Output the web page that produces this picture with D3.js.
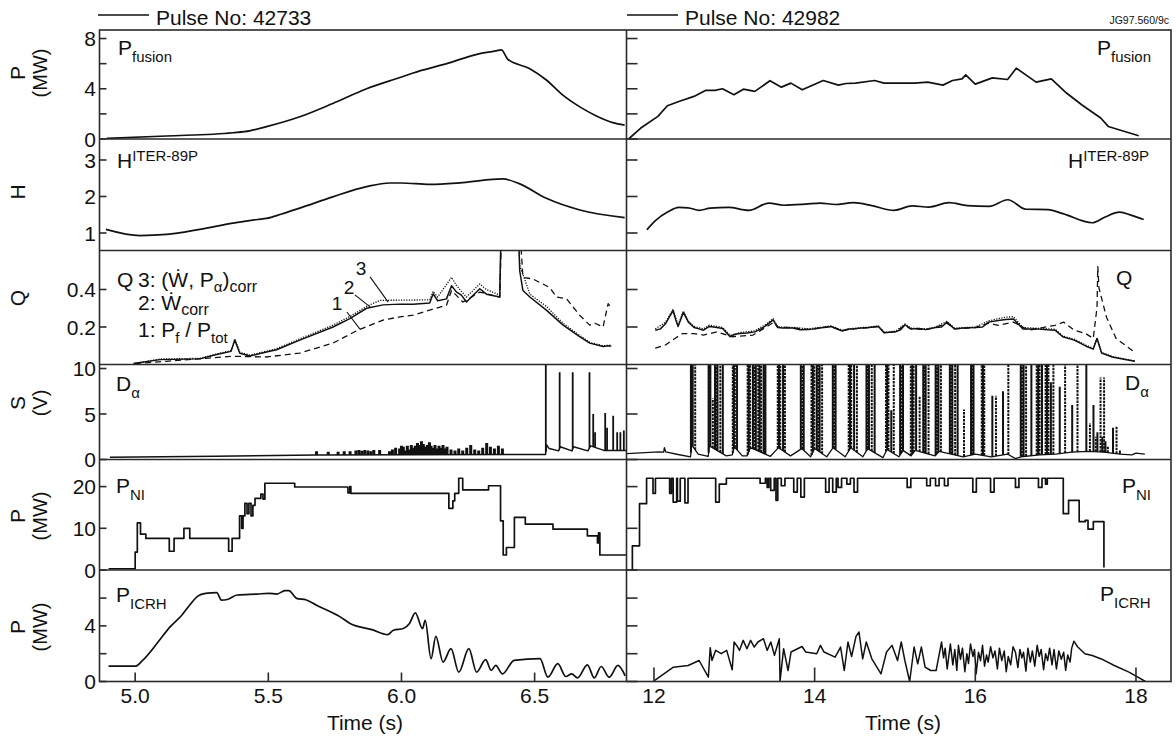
<!DOCTYPE html>
<html><head><meta charset="utf-8">
<script src="https://cdn.jsdelivr.net/npm/d3@7"></script>
<style>
body{margin:0;background:#fff}
text{font-family:"Liberation Sans",Arial,Helvetica,sans-serif;fill:#111}
</style>
</head><body>
<svg id="c" width="1176" height="738"></svg>
<script>
// ---------------- DATA ----------------
const pulseLabels = ["Pulse No: 42733", "Pulse No: 42982"];
const figureCode = "JG97.560/9c";
const timeDomainLeft = [4.866, 6.845];
const timeDomainRight = [11.658, 18.436];
const xTicksLeft = [5.0, 5.5, 6.0, 6.5];
const xTickLabelsLeft = ["5.0", "5.5", "6.0", "6.5"];
const xTicksRight = [12, 14, 16, 18];
const xTickLabelsRight = ["12", "14", "16", "18"];
const xAxisTitle = "Time (s)";

const rowNames = ["P", "H", "Q", "S", "P", "P"];
const rowUnits = ["(MW)", "", "", "(V)", "(MW)", "(MW)"];
const rowDomains = [[0, 8.68], [0.52, 3.575], [0, 0.608], [0, 10.44], [0, 26.5], [0, 8.02]];
const rowTicks = [[0, 2, 4, 6, 8], [1, 2, 3], [0.2, 0.4], [0, 5, 10], [0, 10, 20], [0, 2, 4, 6]];
const rowTickLabels = [["0", "", "4", "", "8"], ["1", "2", "3"], ["0.2", "0.4"], ["0", "5", "10"], ["0", "10", "20"], ["0", "", "4", ""]];

// Row 1: fusion power (MW)
const pFusionL = [[4.893,0.05],[5.118,0.24],[5.367,0.5],[5.43,0.65],[5.493,0.98],[5.618,1.77],[5.742,2.83],[5.869,4.0],[5.994,4.9],[6.044,5.26],[6.17,6.0],[6.294,6.8],[6.35,7.0],[6.375,7.1],[6.399,6.35],[6.482,5.6],[6.544,4.7],[6.606,3.5],[6.67,2.56],[6.732,1.83],[6.793,1.3],[6.838,1.1]];
const pFusionR = [[11.684,0],[11.836,0.87],[12.049,1.8],[12.167,2.65],[12.309,2.99],[12.498,3.39],[12.64,3.87],[12.759,3.87],[12.853,4.0],[12.995,3.52],[13.113,3.97],[13.255,3.79],[13.444,4.64],[13.586,4.13],[13.704,4.45],[13.846,3.92],[14.107,4.66],[14.296,4.29],[14.39,4.42],[14.509,4.45],[14.746,4.66],[14.864,4.45],[15.243,4.45],[15.408,4.53],[15.597,4.29],[15.716,4.66],[15.834,4.79],[15.881,5.11],[15.999,4.37],[16.212,4.87],[16.402,4.74],[16.51,5.64],[16.757,4.53],[16.946,4.79],[17.135,3.66],[17.324,2.73],[17.561,1.67],[17.655,1.0],[18.034,0.26]];

// Row 2: H ITER-89P
const hL = [[4.89,1.1],[5.018,0.93],[5.118,0.96],[5.243,1.1],[5.367,1.27],[5.46,1.37],[5.493,1.4],[5.55,1.52],[5.618,1.68],[5.742,1.99],[5.869,2.27],[5.956,2.37],[6.0,2.37],[6.106,2.33],[6.23,2.38],[6.38,2.48],[6.44,2.36],[6.544,1.95],[6.67,1.63],[6.838,1.42]];
const hR = [[11.913,1.09],[12.014,1.33],[12.174,1.58],[12.311,1.70],[12.425,1.69],[12.562,1.62],[12.7,1.68],[12.928,1.70],[13.18,1.62],[13.431,1.82],[13.614,1.76],[13.889,1.79],[14.072,1.82],[14.255,1.78],[14.483,1.83],[14.712,1.75],[14.986,1.62],[15.215,1.74],[15.421,1.71],[15.672,1.83],[15.901,1.75],[16.175,1.73],[16.404,1.91],[16.632,1.65],[16.907,1.64],[17.09,1.53],[17.456,1.28],[17.616,1.44],[17.799,1.57],[17.936,1.49],[18.096,1.37]];

// Row 3: Q  (1: Pf/Ptot dashed, 2: Wcorr solid, 3: (W,Pa)corr dotted)
const qSolidL = [[4.993,0.005],[5.093,0.026],[5.243,0.03],[5.306,0.053],[5.36,0.07],[5.374,0.13],[5.393,0.06],[5.431,0.045],[5.493,0.067],[5.531,0.079],[5.618,0.13],[5.743,0.2],[5.806,0.245],[5.869,0.30],[5.931,0.318],[5.994,0.322],[6.044,0.321],[6.106,0.328],[6.119,0.377],[6.136,0.34],[6.169,0.35],[6.188,0.42],[6.207,0.386],[6.225,0.37],[6.244,0.333],[6.294,0.404],[6.319,0.375],[6.369,0.36],[6.377,0.95],[6.434,0.95],[6.444,0.5],[6.456,0.395],[6.482,0.36],[6.544,0.29],[6.607,0.21],[6.669,0.149],[6.707,0.114],[6.757,0.096],[6.776,0.1],[6.788,0.098]];
const qDotL = [[5.0,0.006],[5.093,0.029],[5.243,0.033],[5.306,0.056],[5.36,0.075],[5.374,0.135],[5.393,0.065],[5.431,0.05],[5.493,0.071],[5.531,0.084],[5.618,0.137],[5.743,0.21],[5.806,0.256],[5.869,0.31],[5.919,0.342],[5.994,0.343],[6.106,0.345],[6.119,0.39],[6.136,0.36],[6.188,0.465],[6.207,0.42],[6.225,0.39],[6.244,0.36],[6.294,0.43],[6.319,0.4],[6.369,0.37],[6.378,0.95],[6.432,0.95],[6.444,0.53],[6.482,0.375],[6.544,0.31],[6.607,0.22],[6.669,0.155],[6.707,0.118],[6.757,0.1],[6.788,0.103]];
const qDashL = [[5.0,0.005],[5.118,0.017],[5.368,0.044],[5.493,0.04],[5.618,0.061],[5.743,0.114],[5.837,0.184],[5.931,0.237],[5.994,0.254],[6.044,0.263],[6.106,0.29],[6.169,0.316],[6.188,0.395],[6.231,0.333],[6.294,0.386],[6.369,0.36],[6.38,0.95],[6.435,0.95],[6.456,0.465],[6.494,0.456],[6.557,0.41],[6.582,0.36],[6.62,0.35],[6.669,0.263],[6.707,0.21],[6.726,0.22],[6.757,0.2],[6.776,0.325],[6.788,0.3]];
const qSolidR = [[12.016,0.183],[12.08,0.19],[12.143,0.217],[12.2,0.26],[12.238,0.287],[12.27,0.24],[12.3,0.203],[12.366,0.278],[12.428,0.226],[12.499,0.197],[12.56,0.19],[12.617,0.183],[12.688,0.203],[12.74,0.2],[12.783,0.197],[12.854,0.192],[12.948,0.148],[13.0,0.16],[13.066,0.165],[13.16,0.168],[13.256,0.174],[13.33,0.19],[13.398,0.209],[13.483,0.238],[13.54,0.197],[13.6,0.195],[13.729,0.195],[13.82,0.185],[13.918,0.186],[14.0,0.19],[14.108,0.197],[14.202,0.203],[14.344,0.179],[14.42,0.19],[14.486,0.19],[14.58,0.195],[14.676,0.197],[14.794,0.203],[14.865,0.169],[15.007,0.174],[15.07,0.185],[15.125,0.212],[15.196,0.19],[15.3,0.192],[15.386,0.186],[15.504,0.197],[15.58,0.2],[15.646,0.226],[15.741,0.19],[15.85,0.195],[16.001,0.197],[16.09,0.2],[16.167,0.226],[16.285,0.235],[16.38,0.24],[16.474,0.243],[16.593,0.19],[16.757,0.19],[16.9,0.185],[16.994,0.183],[17.088,0.148],[17.231,0.13],[17.373,0.099],[17.468,0.082],[17.515,0.139],[17.572,0.061],[17.704,0.04],[17.85,0.028],[17.988,0.017]];
const qDotR = [[12.016,0.19],[12.143,0.225],[12.238,0.295],[12.3,0.21],[12.366,0.285],[12.428,0.232],[12.499,0.203],[12.617,0.19],[12.688,0.21],[12.783,0.203],[12.854,0.198],[12.948,0.155],[13.066,0.17],[13.256,0.18],[13.398,0.215],[13.483,0.245],[13.54,0.2],[13.729,0.198],[13.918,0.19],[14.108,0.2],[14.202,0.206],[14.344,0.183],[14.486,0.193],[14.676,0.2],[14.794,0.206],[14.865,0.172],[15.007,0.178],[15.125,0.216],[15.196,0.194],[15.386,0.19],[15.504,0.2],[15.646,0.23],[15.741,0.194],[16.001,0.2],[16.167,0.232],[16.285,0.245],[16.38,0.252],[16.474,0.255],[16.593,0.197],[16.757,0.194],[16.994,0.188],[17.088,0.152],[17.231,0.135],[17.373,0.104],[17.468,0.086],[17.515,0.142],[17.572,0.064],[17.704,0.043],[17.988,0.019]];
const qDashR = [[12.016,0.087],[12.143,0.104],[12.261,0.139],[12.356,0.165],[12.499,0.165],[12.617,0.157],[12.783,0.174],[12.972,0.148],[13.232,0.157],[13.398,0.2],[13.493,0.226],[13.54,0.2],[13.729,0.196],[13.918,0.187],[14.108,0.197],[14.202,0.203],[14.344,0.18],[14.486,0.19],[14.676,0.197],[14.794,0.203],[14.865,0.17],[15.007,0.175],[15.125,0.21],[15.196,0.19],[15.386,0.187],[15.504,0.197],[15.646,0.22],[15.741,0.19],[16.001,0.197],[16.167,0.22],[16.285,0.209],[16.474,0.226],[16.663,0.183],[16.994,0.209],[17.1,0.226],[17.231,0.183],[17.373,0.165],[17.468,0.139],[17.515,0.304],[17.525,0.522],[17.539,0.409],[17.633,0.252],[17.752,0.139],[17.988,0.064]];
const qLegend = ["3: (Ẇ, P", "α", ")", "corr", "2: Ẇ", "corr", "1: P", "f", " / P", "tot"];
const qCurveIds = ["1", "2", "3"];
const qCurveLabelPos = [[5.758, 0.29], [5.803, 0.376], [5.848, 0.477]];
const qLeaderFrom = [[5.795, 0.28], [5.825, 0.371], [5.882, 0.467]];
const qLeaderTo = [[5.844, 0.189], [5.882, 0.307], [5.95, 0.333]];

// Row 4: D-alpha signal (V): baseline + ELM spikes
const sBaseL = [[4.905,0.26],[5.3,0.35],[5.68,0.5],[6.386,0.55],[6.541,0.55],[6.545,1.6],[6.555,1.2],[6.59,0.95],[6.596,1.4],[6.64,0.95],[6.646,1.4],[6.70,0.95],[6.71,1.5],[6.76,1.0],[6.845,1.0]];
const elmTimesL = [5.681,5.725,5.762,5.785,5.807,5.829,5.84,5.851,5.862,5.874,5.885,5.896,5.918,5.955,5.966,5.978,5.993,6.0,6.007,6.015,6.022,6.03,6.037,6.045,6.052,6.06,6.067,6.075,6.082,6.09,6.097,6.105,6.111,6.12,6.126,6.135,6.141,6.15,6.156,6.165,6.171,6.186,6.201,6.215,6.23,6.245,6.26,6.275,6.29,6.305,6.32,6.334,6.349,6.364,6.379,6.542,6.594,6.643,6.706,6.72,6.727,6.765,6.772,6.795,6.81,6.822,6.835];
const elmPeaksL = [0.9,0.85,0.85,0.9,0.9,1.0,1.05,0.95,1.05,1.0,0.9,1.05,1.05,0.9,1.1,1.3,1.2,1.5,1.4,1.0,1.5,1.1,1.6,1.3,1.5,1.8,1.6,2.0,1.7,1.4,1.6,1.9,1.5,1.3,1.6,1.2,1.5,1.3,1.6,1.2,1.4,1.1,1.0,1.2,1.0,1.3,1.6,1.1,1.0,1.3,1.8,1.4,1.2,1.5,1.2,11,9.6,9.6,9.6,5.0,3.0,5.1,3.5,4.8,3.0,3.0,3.2];
const sBaseR = [[11.665,0.64],[12.06,0.83],[12.12,0.8],[12.13,1.3],[12.145,0.85],[12.3,0.55],[12.455,0.3],[12.47,1.6],[12.55,0.6],[12.675,0.35],[12.69,1.5],[12.9,0.4],[12.975,0.5],[13.0,1.4],[13.1,0.4],[13.16,0.4],[13.2,1.3],[13.45,0.35],[13.55,1.3],[13.7,0.4],[13.84,1.2],[13.95,0.3],[14.0,1.2],[14.15,0.3],[14.23,1.3],[14.38,0.3],[14.45,1.3],[14.6,0.3],[14.66,1.2],[14.85,0.2],[14.9,1.1],[15.05,0.3],[15.1,1.0],[15.2,0.4],[15.25,1.0],[15.5,0.4],[15.55,0.9],[15.7,0.6],[15.85,0.3],[16.0,0.6],[16.2,0.3],[16.4,0.6],[16.5,0.1],[16.57,0.3],[16.8,0.5],[17.0,0.6],[17.2,0.8],[17.4,0.9],[17.6,0.8],[17.8,0.6],[17.95,0.5],[18.0,0.7],[18.11,0.6]];
const elmTimesR = [12.46,12.47,12.482,12.513,12.68,12.69,12.702,12.733,12.76,12.775,12.791,12.826,12.857,12.981,12.994,13.007,13.034,13.166,13.18,13.197,13.232,13.25,13.268,13.298,13.315,13.334,13.365,13.376,13.387,13.541,13.556,13.572,13.607,13.63,13.828,13.846,13.864,13.961,13.978,13.996,14.027,14.045,14.062,14.093,14.226,14.243,14.261,14.424,14.44,14.455,14.491,14.526,14.645,14.66,14.676,14.711,14.747,14.888,14.903,14.919,14.954,14.985,15.064,15.082,15.1,15.197,15.215,15.232,15.263,15.307,15.352,15.367,15.382,15.418,15.506,15.523,15.541,15.572,15.683,15.7,15.714,15.749,15.78,15.859,15.947,15.962,15.978,16.08,16.095,16.111,16.212,16.257,16.345,16.411,16.566,16.583,16.601,16.632,16.698,16.764,16.782,16.8,16.83,16.875,16.892,16.91,16.941,16.972,17.051,17.118,17.206,17.272,17.382,17.427,17.471,17.5,17.52,17.559,17.58,17.603,17.62,17.65,17.714,17.758,17.8];
const elmPeaksR = [11,11,11,11,11,11,11,6.7,11,11,11,11,11,11,11,11,11,11,11,11,11,11,11,11,11,11,11,11,11,11,11,11,11,11,11,11,11,11,11,11,11,11,11,11,11,11,11,11,11,11,11,11,11,11,11,11,11,11,11,11,5.4,11,11,11,11,11,11,11,11,7,11,11,11,11,11,11,11,11,11,11,11,11,11,5.5,11,11,11,11,11,11,7,7,7.5,11,11,11,11,11,11,11,11,11,11,11,11,11,8.5,11,8,11,6,11,11,4,6,2.5,3,9,2.5,9,2,1.5,3.5,3.7,1.0];

// Row 5: neutral beam power P_NI (MW), stepwise
const pNiL = [[4.90,0.3],[5.0,4.3],[5.008,11.3],[5.02,8.6],[5.04,7.6],[5.128,4.5],[5.146,7.6],[5.183,10.0],[5.205,7.6],[5.351,4.5],[5.364,7.6],[5.392,13],[5.40,10],[5.405,13],[5.412,16],[5.42,13.5],[5.427,16],[5.435,13],[5.442,15.5],[5.45,17.2],[5.472,18.2],[5.48,17],[5.487,20.8],[5.599,19.9],[5.799,18.5],[5.806,20],[5.81,18.4],[6.178,14.8],[6.193,16.6],[6.20,18.4],[6.215,22],[6.23,19.2],[6.327,20.2],[6.372,11.8],[6.382,3.6],[6.394,5.4],[6.424,12.6],[6.465,11.0],[6.569,9.8],[6.698,8.2],[6.736,6.5],[6.74,8.9],[6.745,3.6],[6.845,3.6]];
const pNiR = [[11.73,0],[11.731,5.8],[11.82,15.9],[11.908,22.0],[11.988,18.4],[12.018,22.0],[12.195,18.4],[12.217,22.0],[12.239,16.3],[12.283,22.0],[12.292,16.5],[12.327,22],[12.385,16.1],[12.424,22],[12.768,16.3],[12.813,20.6],[12.901,22],[13.321,20.8],[13.387,22],[13.409,19.8],[13.43,22],[13.453,19.1],[13.497,22],[13.519,16.7],[13.541,22],[13.585,20.2],[13.63,22],[13.74,18.7],[13.784,22],[13.828,17.5],[13.872,22],[14.137,18.7],[14.18,22],[14.225,18.7],[14.269,22],[14.291,19.8],[14.335,22],[14.401,20.6],[14.445,22],[14.49,18.7],[14.534,22],[15.152,19.8],[15.197,22],[15.395,20.2],[15.44,22],[15.505,20.2],[15.549,22],[15.616,20.2],[15.66,22],[15.969,18.7],[16.013,22],[16.19,18.7],[16.234,22],[16.5,19.8],[16.543,22],[16.786,19.8],[16.83,22],[16.874,20.6],[16.896,22],[17.095,13.5],[17.161,16.7],[17.293,11.6],[17.368,11.9],[17.403,9.8],[17.469,11.6],[17.601,0.6]];

// Row 6: ICRH power (MW)
const pIcrhL = [[4.90,1.1],[5.0,1.1],[5.027,1.5],[5.086,2.84],[5.131,3.93],[5.175,4.77],[5.205,5.5],[5.235,6.14],[5.264,6.34],[5.306,6.39],[5.324,5.86],[5.346,5.9],[5.383,6.22],[5.458,6.29],[5.502,6.34],[5.532,6.29],[5.562,6.53],[5.577,6.53],[5.606,5.98],[5.643,5.86],[5.681,5.49],[5.77,4.65],[5.807,4.17],[5.889,3.73],[5.948,3.37],[5.97,3.69],[6.007,3.81],[6.03,4.17],[6.052,4.94],[6.079,3.8],[6.089,4.4],[6.111,1.64],[6.129,3.25],[6.156,1.4],[6.186,2.36],[6.215,0.67],[6.253,2.36],[6.282,0.67],[6.316,1.57],[6.337,0.8],[6.354,1.16],[6.379,0.55],[6.423,1.52],[6.52,1.64],[6.55,0.31],[6.587,1.28],[6.617,0.36],[6.639,0.55],[6.661,0.26],[6.698,1.2],[6.724,0.26],[6.75,1.08],[6.78,0.31],[6.813,1.16],[6.84,0.4]];
const pIcrhR = [[12.005,0.07],[12.242,1.03],[12.425,1.15],[12.562,1.51],[12.677,0.31],[12.7,2.43],[12.722,1.51],[12.768,2.24],[12.837,2.0],[12.905,2.24],[12.974,0.84],[12.997,2.84],[13.029,2.6],[13.065,2.24],[13.111,2.96],[13.157,2.36],[13.203,2.96],[13.248,2.48],[13.294,2.84],[13.363,3.08],[13.409,2.24],[13.454,2.84],[13.5,1.88],[13.56,3.08],[13.569,0.0],[13.614,2.36],[13.669,0.79],[13.706,2.12],[13.843,2.52],[13.889,2.12],[14.026,2.0],[14.072,2.6],[14.117,2.12],[14.255,1.75],[14.323,2.48],[14.369,0.79],[14.415,2.84],[14.46,1.8],[14.515,3.25],[14.552,3.56],[14.598,1.63],[14.643,2.84],[14.712,1.63],[14.826,0.55],[14.895,2.12],[14.963,2.6],[15.032,1.51],[15.078,2.84],[15.123,1.51],[15.183,0.0],[15.238,2.48],[15.283,1.27],[15.329,2.48],[15.375,1.03],[15.444,0.79],[15.512,0.79],[15.58,2.84],[15.605,1.7],[15.625,2.4],[15.65,0.9],[15.672,1.9],[15.69,2.7],[15.72,1.2],[15.745,2.3],[15.77,0.8],[15.79,2.6],[15.815,1.6],[15.84,2.4],[15.87,0.7],[15.895,2.0],[15.915,1.3],[15.94,2.7],[15.97,1.8],[15.99,2.3],[16.01,0.55],[16.04,2.1],[16.065,1.5],[16.09,2.6],[16.115,1.1],[16.14,1.9],[16.16,1.4],[16.19,2.5],[16.22,1.7],[16.245,2.2],[16.275,0.9],[16.3,2.4],[16.33,1.5],[16.36,2.2],[16.385,0.7],[16.41,1.8],[16.44,1.2],[16.47,2.5],[16.5,2.1],[16.53,1.0],[16.555,2.3],[16.58,1.7],[16.6,2.1],[16.63,0.75],[16.655,2.4],[16.685,1.4],[16.71,2.2],[16.74,1.1],[16.77,2.6],[16.795,1.8],[16.82,2.3],[16.85,0.85],[16.875,2.0],[16.9,1.5],[16.925,2.4],[16.955,1.2],[16.98,2.3],[17.01,0.9],[17.04,2.2],[17.07,1.6],[17.1,2.1],[17.125,0.8],[17.15,1.9],[17.18,1.4],[17.2,2.4],[17.227,2.9],[17.273,2.5],[17.364,2.0],[17.456,1.87],[17.593,1.56],[17.73,1.15],[17.913,0.67],[18.118,0.0]];

// ---------------- LAYOUT ----------------
const svg = d3.select("#c");
const rowEdges = [30, 139, 250.5, 364.5, 459.5, 570, 681.5];
const X0 = 99.5, XM = 626.5, X1 = 1171;
const xL = d3.scaleLinear().domain(timeDomainLeft).range([X0, XM]);
const xR = d3.scaleLinear().domain(timeDomainRight).range([XM, X1]);
const ys = rowDomains.map((d, i) => d3.scaleLinear().domain(d).range([rowEdges[i + 1], rowEdges[i]]));
const INK = "#111", FRAME = "#2a2a2a";

const defs = svg.append("defs");
function clipId(r, side) { return "clip" + r + side; }
ys.forEach((y, r) => {
  [["L", X0, XM], ["R", XM, X1]].forEach(([s, a, b]) => {
    defs.append("clipPath").attr("id", clipId(r, s)).append("rect")
      .attr("x", a).attr("y", rowEdges[r]).attr("width", b - a).attr("height", rowEdges[r + 1] - rowEdges[r]);
  });
});

function trace(r, side, data, curve, opts = {}) {
  const x = side === "L" ? xL : xR, y = ys[r];
  const line = d3.line().x(d => x(d[0])).y(d => y(d[1])).curve(curve || d3.curveLinear);
  svg.append("path").datum(data)
    .attr("clip-path", `url(#${clipId(r, side)})`)
    .attr("d", line).attr("fill", "none").attr("stroke", INK)
    .attr("stroke-width", opts.w || 1.7)
    .attr("stroke-linejoin", "round")
    .attr("stroke-dasharray", opts.dash || null);
}

function interp(arr, t) {
  const i = d3.bisector(d => d[0]).left(arr, t);
  if (i <= 0) return arr[0][1];
  if (i >= arr.length) return arr[arr.length - 1][1];
  const a = arr[i - 1], b = arr[i];
  return a[1] + (b[1] - a[1]) * (t - a[0]) / (b[0] - a[0]);
}
function spikes(r, side, base, times, peaks, styleFn) {
  const x = side === "L" ? xL : xR, y = ys[r];
  const g = svg.append("g").attr("clip-path", `url(#${clipId(r, side)})`);
  times.forEach((t, i) => {
    const st = styleFn(i, peaks[i]);
    g.append("line").attr("x1", x(t)).attr("x2", x(t))
      .attr("y1", y(interp(base, t))).attr("y2", y(peaks[i]))
      .attr("stroke", INK).attr("stroke-width", st.w)
      .attr("stroke-dasharray", st.dash || null);
  });
}

// ---------- traces ----------
trace(0, "L", pFusionL, d3.curveMonotoneX);
trace(0, "R", pFusionR);
trace(1, "L", hL, d3.curveMonotoneX);
trace(1, "R", hR, d3.curveMonotoneX);
trace(2, "L", qDashL, d3.curveLinear, { w: 1.3, dash: "6,4" });
trace(2, "L", qDotL, d3.curveLinear, { w: 1.3, dash: "1.2,1.4" });
trace(2, "L", qSolidL, d3.curveLinear, { w: 1.5 });
trace(2, "R", qDashR, d3.curveLinear, { w: 1.3, dash: "6,4" });
trace(2, "R", qDotR, d3.curveLinear, { w: 1.3, dash: "1.2,1.4" });
trace(2, "R", qSolidR, d3.curveLinear, { w: 1.5 });
trace(3, "L", sBaseL, d3.curveLinear, { w: 1.5 });
spikes(3, "L", sBaseL, elmTimesL, elmPeaksL, (i, p) => ({ w: p < 3 ? 3 : 1.8 }));
trace(3, "R", sBaseR, d3.curveLinear, { w: 1.3 });
spikes(3, "R", sBaseR, elmTimesR, elmPeaksR, (i, p) => ({ w: 2, dash: i % 2 ? "2.5,1" : null }));
trace(4, "L", pNiL, d3.curveStepAfter);
trace(4, "R", pNiR, d3.curveStepAfter);
trace(5, "L", pIcrhL, d3.curveMonotoneX);
trace(5, "R", pIcrhR, d3.curveLinear, { w: 1.5 });

// ---------- frame ----------
const frame = svg.append("g").attr("stroke", FRAME).attr("stroke-width", 1.6).attr("fill", "none");
frame.append("rect").attr("x", X0).attr("y", rowEdges[0]).attr("width", X1 - X0).attr("height", rowEdges[6] - rowEdges[0]);
rowEdges.slice(1, 6).forEach(e => frame.append("line").attr("x1", X0).attr("x2", X1).attr("y1", e).attr("y2", e));
frame.append("line").attr("x1", XM).attr("x2", XM).attr("y1", rowEdges[0]).attr("y2", rowEdges[6]);

// y ticks + labels
ys.forEach((y, r) => {
  rowTicks[r].forEach((v, k) => {
    frame.append("line").attr("x1", X0).attr("x2", X0 + 7).attr("y1", y(v)).attr("y2", y(v));
    frame.append("line").attr("x1", XM).attr("x2", XM + 11).attr("y1", y(v)).attr("y2", y(v));
    const lab = rowTickLabels[r][k];
    if (lab) svg.append("text").attr("x", 96).attr("y", y(v)).attr("dy", "0.36em")
      .attr("text-anchor", "end").attr("font-size", 21).text(lab);
  });
});
// row titles (rotated)
const titleCenters = [73, 192, 298, 403, 516, 627];
rowNames.forEach((n, r) => {
  svg.append("text").attr("transform", `translate(25,${titleCenters[r]}) rotate(-90)`)
    .attr("text-anchor", "middle").attr("font-size", 21).text(n);
  if (rowUnits[r]) svg.append("text").attr("transform", `translate(47,${titleCenters[r]}) rotate(-90)`)
    .attr("text-anchor", "middle").attr("font-size", 20).text(rowUnits[r]);
});
// x ticks
[[xL, xTicksLeft, xTickLabelsLeft, 9], [xR, xTicksRight, xTickLabelsRight, 14]].forEach(([x, ticks, labs, len]) => {
  ticks.forEach((t, i) => {
    frame.append("line").attr("x1", x(t)).attr("x2", x(t)).attr("y1", rowEdges[6]).attr("y2", rowEdges[6] - len);
    svg.append("text").attr("x", x(t)).attr("y", 703).attr("text-anchor", "middle").attr("font-size", 21).text(labs[i]);
  });
});
svg.append("text").attr("x", 365).attr("y", 730).attr("text-anchor", "middle").attr("font-size", 21).text(xAxisTitle);
svg.append("text").attr("x", 903).attr("y", 730).attr("text-anchor", "middle").attr("font-size", 21).text(xAxisTitle);

// titles
[[98, pulseLabels[0]], [627, pulseLabels[1]]].forEach(([x0, s]) => {
  svg.append("line").attr("x1", x0).attr("x2", x0 + 51).attr("y1", 15).attr("y2", 15).attr("stroke", INK).attr("stroke-width", 1.6);
  svg.append("text").attr("x", x0 + 58).attr("y", 25).attr("font-size", 21).text(s);
});
svg.append("text").attr("x", 1169).attr("y", 24).attr("text-anchor", "end").attr("font-size", 10.5).text(figureCode);

// panel labels
function sublabel(x, y, main, sub, sup) {
  const t = svg.append("text").attr("x", x).attr("y", y).attr("font-size", 21);
  t.append("tspan").text(main);
  if (sub) t.append("tspan").attr("font-size", 15).attr("dy", 7).text(sub);
  if (sup) t.append("tspan").attr("font-size", 15).attr("dy", -7).text(sup);
}
sublabel(118, 55, "P", "fusion");
sublabel(1097, 55, "P", "fusion");
sublabel(117, 168, "H", null, "ITER-89P");
sublabel(1068, 168, "H", null, "ITER-89P");
sublabel(1116, 285, "Q");
sublabel(116, 391, "D", "α");
sublabel(1125, 390, "D", "α");
sublabel(116, 493, "P", "NI");
sublabel(1122, 493, "P", "NI");
sublabel(116, 602, "P", "ICRH");
sublabel(1100, 601, "P", "ICRH");

// Q legend (left)
svg.append("text").attr("x", 117).attr("y", 287).attr("font-size", 21).text("Q");
const l3 = svg.append("text").attr("x", 138).attr("y", 287).attr("font-size", 21);
l3.append("tspan").text(qLegend[0]);
l3.append("tspan").attr("font-size", 15).attr("dy", 5).text(qLegend[1]);
l3.append("tspan").attr("dy", -5).text(qLegend[2]);
l3.append("tspan").attr("font-size", 16).attr("dy", 5).text(qLegend[3]);
const l2 = svg.append("text").attr("x", 138).attr("y", 310).attr("font-size", 21);
l2.append("tspan").text(qLegend[4]);
l2.append("tspan").attr("font-size", 16).attr("dy", 5).text(qLegend[5]);
const l1 = svg.append("text").attr("x", 138).attr("y", 337).attr("font-size", 21);
l1.append("tspan").text(qLegend[6]);
l1.append("tspan").attr("font-size", 15).attr("dy", 6).text(qLegend[7]);
l1.append("tspan").attr("dy", -6).text(qLegend[8]);
l1.append("tspan").attr("font-size", 15).attr("dy", 6).text(qLegend[9]);
qCurveIds.forEach((id, i) => {
  svg.append("text").attr("x", xL(qCurveLabelPos[i][0])).attr("y", ys[2](qCurveLabelPos[i][1]))
    .attr("text-anchor", "middle").attr("font-size", 19).text(id);
  svg.append("line").attr("x1", xL(qLeaderFrom[i][0])).attr("y1", ys[2](qLeaderFrom[i][1]))
    .attr("x2", xL(qLeaderTo[i][0])).attr("y2", ys[2](qLeaderTo[i][1]))
    .attr("stroke", INK).attr("stroke-width", 1.1);
});
</script>
</body></html>
